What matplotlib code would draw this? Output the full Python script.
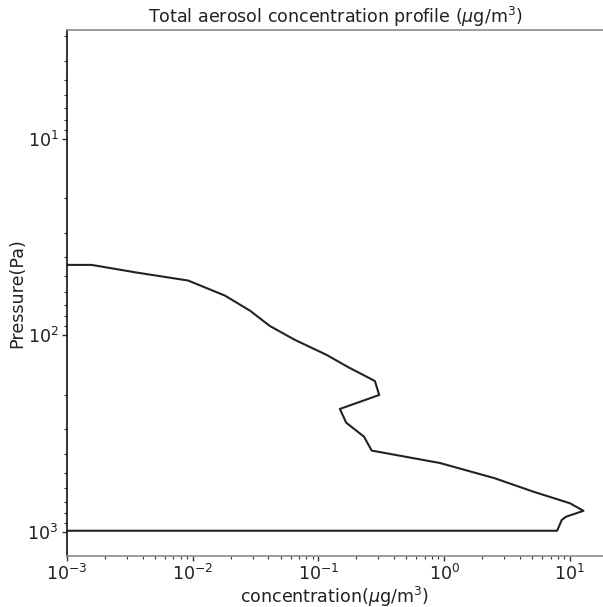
import numpy as np
import matplotlib
matplotlib.use("Agg")
import matplotlib.pyplot as plt

# Total aerosol concentration per level (ug/m3) and the level pressure (Pa)
concentration = [1e-4, 1.57e-3, 3.58e-3, 9.2e-3, 0.018, 0.0285, 0.0411, 0.065,
                 0.116, 0.173, 0.281, 0.304, 0.148, 0.166, 0.230, 0.265,
                 0.925, 2.53, 5.1, 10.0, 12.8, 9.3, 8.6, 7.9, 1e-4]
pressure = [43.8, 43.8, 47.9, 52.6, 62.7, 74.8, 89.6, 105.4,
            125.6, 145.2, 170.6, 200.9, 236.6, 277.7, 327.2, 385.3,
            445.6, 533.0, 623.0, 714.0, 780.0, 836.0, 868.0, 985.0, 985.0]

fs = 12.6
plt.rcParams['font.family'] = 'DejaVu Sans'
plt.rcParams['font.size'] = fs

fig = plt.figure(figsize=(6.03, 6.07), dpi=100)
ax = fig.add_axes([0.111, 0.084, 0.889, 0.867])

ax.plot(concentration, pressure, color='#222222', linewidth=1.5)

ax.set_xscale('log')
ax.set_yscale('log')
ax.set_xlim(1e-3, 18.3)
ax.set_ylim(1324, 2.79)

ax.spines['right'].set_visible(False)
ax.spines['top'].set_color('#8c8c8c')
ax.spines['bottom'].set_color('#8c8c8c')
ax.spines['left'].set_color('#111111')
for s in ax.spines.values():
    s.set_linewidth(1.2)

ax.tick_params(which='major', length=3.5, width=1, color='#333333',
               labelsize=fs, labelcolor='#222222', pad=2.5)
ax.tick_params(which='minor', length=2, width=0.8, color='#333333')

ax.set_title('Total aerosol concentration profile ($\\mu$g/m$^3$)',
             fontsize=fs, color='#222222', pad=5)
ax.set_xlabel('concentration($\\mu$g/m$^3$)', fontsize=fs, color='#222222', labelpad=0)
ax.set_ylabel('Pressure(Pa)', fontsize=fs, color='#222222', labelpad=1)

plt.savefig('out.png', dpi=100)
